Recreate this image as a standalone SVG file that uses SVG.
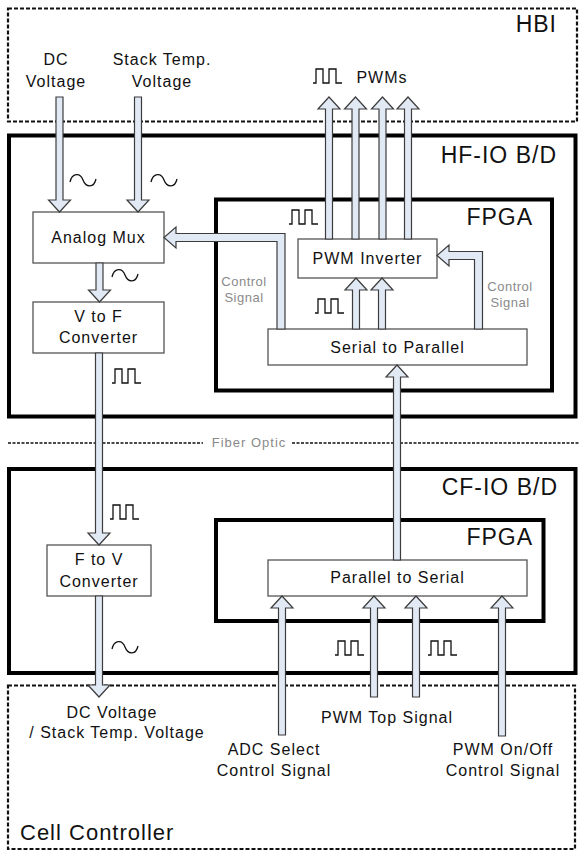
<svg xmlns="http://www.w3.org/2000/svg" xmlns:xlink="http://www.w3.org/1999/xlink" width="579" height="851" viewBox="0 0 579 851">
<style>
text{font-family:"Liberation Sans",Arial,sans-serif;fill:#111;}
.t{font-size:16px;letter-spacing:1px;text-anchor:middle;}
.big{font-size:23px;letter-spacing:1px;text-anchor:end;}
.g{font-size:13px;letter-spacing:0.5px;fill:#8a8a8a;text-anchor:middle;}
.dash{fill:none;stroke:#111;stroke-width:2.2;stroke-dasharray:4 2;}
.thick{fill:none;stroke:#000;stroke-width:4;}
.box{fill:#fff;stroke:#555;stroke-width:1.3;}
.arr{fill:#e1e9f5;stroke:#3c3c3c;stroke-width:1.2;stroke-linejoin:miter;}
.sym{fill:none;stroke:#111;stroke-width:1.3;}
</style>
<defs>
<path id="pulse" d="M0,15 H3 V1 H10 V15 H16 V1 H23 V15 H29" class="sym"/>
<path id="tilde" d="M0,9 C2,0 10,-1 13,7 C16,15 24,15 26,6" class="sym"/>
</defs>
<rect width="579" height="851" fill="#fff"/>

<g id="hbi">
<rect x="8" y="8.5" width="569" height="113" class="dash"/>
<text x="557" y="32" class="big">HBI</text>
<text x="56" y="65" class="t">DC</text>
<text x="56" y="87" class="t">Voltage</text>
<text x="162" y="65" class="t">Stack Temp.</text>
<text x="162" y="87" class="t">Voltage</text>
<use xlink:href="#pulse" x="313" y="68"/>
<text x="382" y="83" class="t">PWMs</text>
</g>

<g id="hfio">
<rect x="9" y="135.5" width="566.5" height="281" class="thick"/>
<text x="557" y="163" class="big">HF-IO B/D</text>
</g>

<g id="fpga1">
<rect x="216" y="199.5" width="336" height="191" class="thick"/>
<text x="533" y="225" class="big">FPGA</text>
</g>

<g id="fiber">
<line x1="8" y1="443" x2="203" y2="443" stroke="#111" stroke-width="1.6" stroke-dasharray="3 1.5"/>
<text x="249" y="447" class="g" style="letter-spacing:1px">Fiber Optic</text>
<line x1="292" y1="443" x2="579" y2="443" stroke="#111" stroke-width="1.6" stroke-dasharray="3 1.5"/>
</g>

<g id="cfio">
<rect x="9" y="469" width="566.5" height="204" class="thick"/>
<text x="558" y="495" class="big">CF-IO B/D</text>
</g>

<g id="fpga2">
<rect x="216" y="520" width="327.5" height="101" class="thick"/>
<text x="533" y="545" class="big">FPGA</text>
</g>

<g id="cellcontroller">
<rect x="8" y="685.5" width="567" height="163.5" class="dash"/>
<text x="20" y="840" style="font-size:22px;letter-spacing:1px">Cell Controller</text>
<text x="112" y="718" class="t">DC Voltage</text>
<text x="117" y="738" class="t">/ Stack Temp. Voltage</text>
<text x="274" y="755" class="t">ADC Select</text>
<text x="274" y="776" class="t">Control Signal</text>
<text x="387" y="723" class="t">PWM Top Signal</text>
<text x="503" y="755" class="t">PWM On/Off</text>
<text x="503" y="776" class="t">Control Signal</text>
</g>

<g id="analogmux">
<rect x="33" y="212" width="131" height="51" class="box"/>
<text x="98.5" y="243" class="t">Analog Mux</text>
</g>

<g id="vtof">
<rect x="33" y="302" width="131" height="51" class="box"/>
<text x="98.5" y="322" class="t">V to F</text>
<text x="98.5" y="343" class="t">Converter</text>
</g>

<g id="ftov">
<rect x="47" y="545" width="104" height="51" class="box"/>
<text x="99" y="565" class="t">F to V</text>
<text x="99" y="587" class="t">Converter</text>
</g>

<g id="pwminverter">
<rect x="298" y="239" width="139" height="39" class="box"/>
<text x="367.5" y="264" class="t">PWM Inverter</text>
</g>

<g id="serial2parallel">
<rect x="268" y="329" width="259" height="36" class="box"/>
<text x="397.5" y="353" class="t">Serial to Parallel</text>
</g>

<g id="parallel2serial">
<rect x="268" y="560" width="259" height="36" class="box"/>
<text x="397.5" y="583" class="t">Parallel to Serial</text>
</g>

<g id="connectors">
<!-- DC and Stack Temp into Analog Mux -->
<polygon class="arr" points="56,97 63,97 63,200 70.5,200 59.5,212 48.5,200 56,200"/>
<polygon class="arr" points="134.5,97 141.5,97 141.5,200 149,200 138,212 127,200 134.5,200"/>
<!-- Mux to V/F -->
<polygon class="arr" points="96,263 103,263 103,290 110.5,290 99.5,302 88.5,290 96,290"/>
<!-- V/F to F/V -->
<polygon class="arr" points="95.5,353 102.5,353 102.5,533 110,533 99,545 88,533 95.5,533"/>
<!-- F/V to Cell Controller -->
<polygon class="arr" points="95.5,596 102.5,596 102.5,685 110,685 99,697 88,685 95.5,685"/>
<!-- PWMs out -->
<polygon class="arr" points="325.5,239 325.5,109 318,109 329,97 340,109 332.5,109 332.5,239"/>
<polygon class="arr" points="352,239 352,109 344.5,109 355.5,97 366.5,109 359,109 359,239"/>
<polygon class="arr" points="379,239 379,109 371.5,109 382.5,97 393.5,109 386,109 386,239"/>
<polygon class="arr" points="404.5,239 404.5,109 397,109 408,97 419,109 411.5,109 411.5,239"/>
<!-- S2P to PWM inverter -->
<polygon class="arr" points="352.5,329 352.5,290 345,290 356,278 367,290 359.5,290 359.5,329"/>
<polygon class="arr" points="378.5,329 378.5,290 371,290 382,278 393,290 385.5,290 385.5,329"/>
<!-- control signal left to Analog Mux -->
<polygon class="arr" points="277,329 285,329 285,233.5 176,233.5 176,227 164,237.5 176,248 176,241.5 277,241.5"/>
<!-- control signal right to PWM inverter -->
<polygon class="arr" points="474.5,329 482.5,329 482.5,251.5 449,251.5 449,245 437,255.5 449,266 449,259.5 474.5,259.5"/>
<!-- P2S to S2P via fiber -->
<polygon class="arr" points="393.5,560 393.5,377 386,377 397,365 408,377 400.5,377 400.5,560"/>
<!-- inputs into P2S -->
<polygon class="arr" points="278.5,735 278.5,608 271,608 282,596 293,608 285.5,608 285.5,735"/>
<polygon class="arr" points="370.5,697 370.5,608 363,608 374,596 385,608 377.5,608 377.5,697"/>
<polygon class="arr" points="412.5,697 412.5,608 405,608 416,596 427,608 419.5,608 419.5,697"/>
<polygon class="arr" points="498.5,736 498.5,608 491,608 502,596 513,608 505.5,608 505.5,736"/>
</g>

<g id="labels">
<use xlink:href="#tilde" x="70" y="173"/>
<use xlink:href="#tilde" x="151" y="173"/>
<use xlink:href="#tilde" x="112" y="268"/>
<use xlink:href="#tilde" x="112" y="640"/>
<use xlink:href="#pulse" x="289" y="209"/>
<use xlink:href="#pulse" x="315" y="298"/>
<use xlink:href="#pulse" x="112" y="368"/>
<use xlink:href="#pulse" x="110" y="504"/>
<use xlink:href="#pulse" x="335" y="640"/>
<use xlink:href="#pulse" x="428" y="640"/>
<text x="244" y="286" class="g">Control</text>
<text x="244" y="302" class="g">Signal</text>
<text x="510" y="291" class="g">Control</text>
<text x="510" y="307" class="g">Signal</text>
</g>
</svg>
